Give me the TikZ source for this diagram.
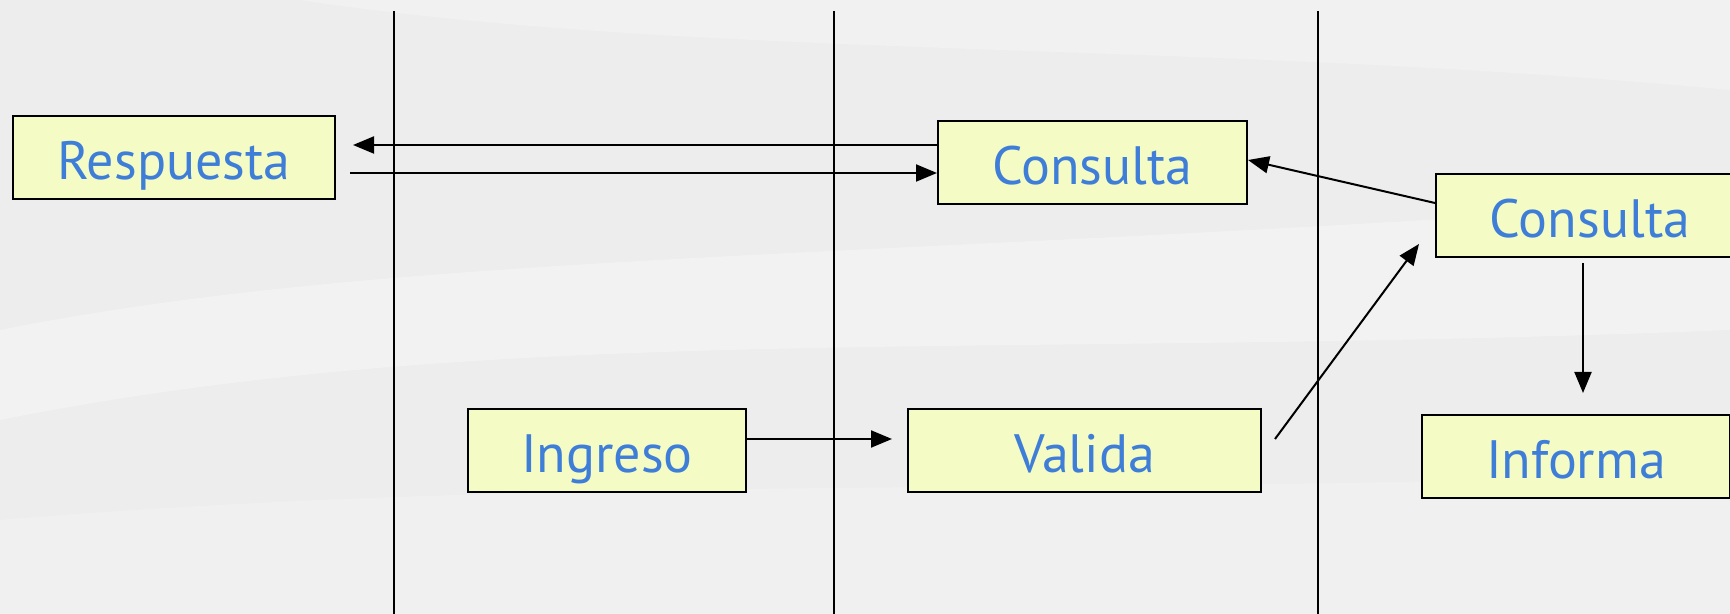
\documentclass[tikz,border=0pt]{standalone}
\usepackage{fontspec}
\setmainfont{PT Sans}
\usetikzlibrary{arrows.meta,calc}
\definecolor{boxfill}{HTML}{F4FBC4}
\definecolor{txtblue}{HTML}{3E7ED8}
\definecolor{bggray}{HTML}{EDEDED}
\tikzset{
  procbox/.style={draw=black, line width=1pt, fill=boxfill, text=txtblue,
    minimum height=41.5pt, inner sep=0pt, text height=21.8pt, text depth=0pt,
    font=\fontsize{27}{30}\selectfont},
  arr/.style={line width=1pt, -{Triangle[length=10.5pt,width=8.5pt]}},
  lane/.style={line width=0.75pt}
}
\begin{document}
\begin{tikzpicture}[x=0.5pt,y=-0.5pt]
\useasboundingbox (0,0) rectangle (1730,614);
% background
\fill[bggray] (0,0) rectangle (1730,614);
\fill[white,opacity=0.3] (0,330) .. controls (400,250) and (900,260) .. (1730,200) -- (1730,330) .. controls (1000,360) and (500,320) .. (0,420) -- cycle;
\fill[white,opacity=0.25] (300,0) .. controls (700,60) and (1200,40) .. (1730,90) -- (1730,0) -- cycle;
\fill[white,opacity=0.2] (0,520) .. controls (600,470) and (1200,500) .. (1730,470) -- (1730,614) -- (0,614) -- cycle;
% lanes
\draw[lane] (394,11) -- (394,614);
\draw[lane] (834,11) -- (834,614);
\draw[lane] (1318,11) -- (1318,614);
% boxes
\node[procbox, minimum width=161pt] (resp) at (174,157.5) {Respuesta};
\node[procbox, minimum width=154.5pt] (cons1) at (1092.5,162.5) {Consulta};
\node[procbox, minimum width=154pt] (cons2) at (1590,215.5) {Consulta};
\node[procbox, minimum width=139pt] (ingreso) at (607,450.5) {Ingreso};
\node[procbox, minimum width=176.5pt] (valida) at (1084.5,450.5) {Valida};
\node[procbox, minimum width=154pt] (informa) at (1576,456.5) {Informa};
% connectors
\draw[arr] ($(cons1.west)+(0,-17.5)$) -- ($(resp.east)+(17,-12.5)$);
\draw[arr] ($(resp.east)+(14,15.5)$) -- ($(cons1.west)+(0,10.5)$);
\draw[arr] ($(cons2.west)+(0,-12.5)$) -- ($(cons1.east)+(0,-2.5)$);
\draw[arr] ($(valida.east)+(13,-11.5)$) -- ($(cons2.south west)+(-16,-14)$);
\draw[arr] ($(cons2.south)+(-7,5)$) -- ($(informa.north)+(7,-21)$);
\draw[arr] ($(ingreso.east)+(0,-11.5)$) -- ($(valida.west)+(-15,-11.5)$);
\end{tikzpicture}
\end{document}
